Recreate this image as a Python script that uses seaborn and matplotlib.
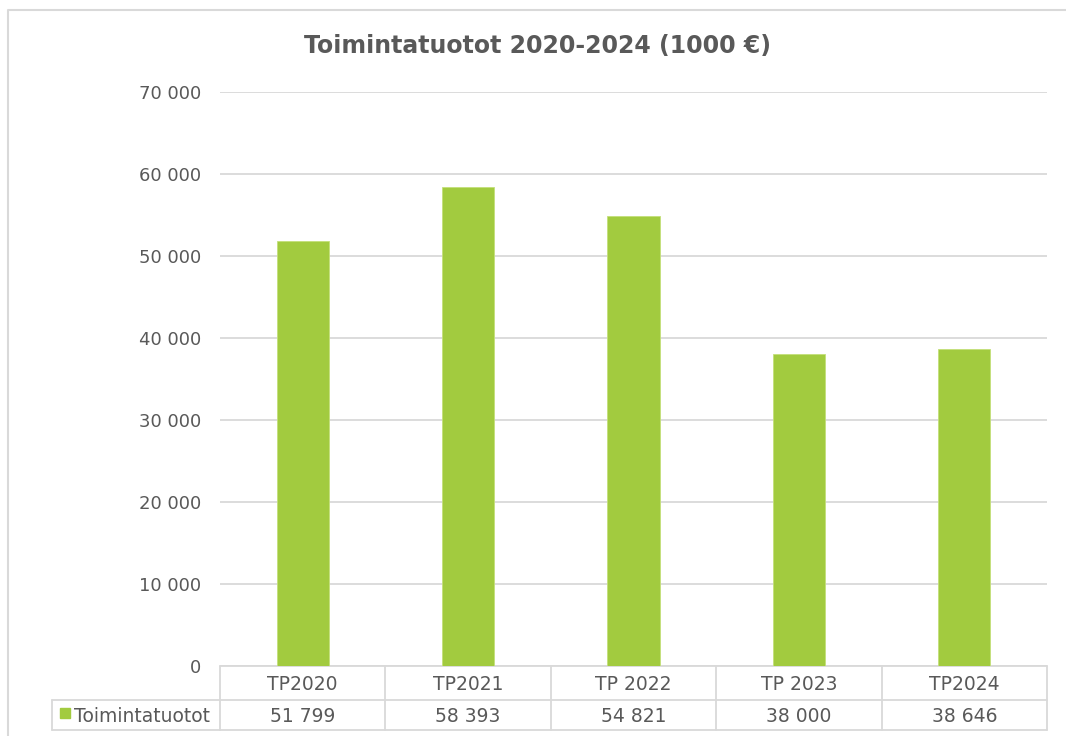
import matplotlib
matplotlib.use("Agg")
import matplotlib.pyplot as plt
import matplotlib.transforms as mtransforms
import seaborn as sns
import pandas as pd

categories = ["TP2020", "TP2021", "TP 2022", "TP 2023", "TP2024"]
values = [51799, 58393, 54821, 38000, 38646]
value_labels = ["51 799", "58 393", "54 821", "38 000", "38 646"]
series_name = "Toimintatuotot"
title = "Toimintatuotot 2020-2024 (1000 €)"
yticks = [0, 10000, 20000, 30000, 40000, 50000, 60000, 70000]
ytick_labels = ["0", "10 000", "20 000", "30 000", "40 000", "50 000", "60 000", "70 000"]

sns.set_theme(style="white")
plt.rcParams['font.family'] = ['DejaVu Sans']

W, H = 1066, 736
fig = plt.figure(figsize=(W / 100, H / 100), dpi=100)
fig.patch.set_facecolor("white")

over = fig.add_axes([0, 0, 1, 1], zorder=0)
over.set_xlim(0, W)
over.set_ylim(H, 0)
over.axis("off")

grid_c = "#d9d9d9"
text_c = "#595959"
green = "#a2cb3f"

# outer chart border
over.plot([8, 8, W + 5], [H + 5, 10, 10], color=grid_c, lw=1.5, solid_capstyle="butt")

left, right, y0, y70 = 220, 1047, 666, 92
ax = fig.add_axes([left / W, (H - y0) / H, (right - left) / W, (y0 - y70) / H], zorder=1)
ax.patch.set_alpha(0)

df = pd.DataFrame({"cat": categories, "val": values})
sns.barplot(data=df, x="cat", y="val", color=green, saturation=1, width=0.315,
            ax=ax, zorder=3, edgecolor="#c4e07a", linewidth=0.6)
ax.set_xlim(-0.5, len(categories) - 0.5)
ax.set_ylim(0, 70000)
ax.set_yticks(yticks)
ax.set_yticklabels(ytick_labels, color=text_c, fontsize=13)
ax.tick_params(axis="y", length=0, pad=13.5)
ax.set_xticks([])
ax.set_xlabel("")
ax.set_ylabel("")
for s in ax.spines.values():
    s.set_visible(False)
ax.grid(axis="y", color=grid_c, lw=1.3)
ax.set_axisbelow(True)

fig.text(0.5 * (293 + 783) / W, 1 - 46 / H, title, ha="center", va="center",
         fontsize=17, fontweight="bold", color=text_c)

# data table
tr = mtransforms.blended_transform_factory(ax.transData, over.transData)
n = len(categories)
row_top, row_mid, row_bot = 666, 700, 730
for i in range(n + 1):
    xb = i - 0.5
    over.plot([xb, xb], [row_top, row_bot], color=grid_c, lw=1.3, transform=tr)
over.plot([-0.5, n - 0.5], [row_top, row_top], color=grid_c, lw=1.3, transform=tr)
over.plot([-0.5, n - 0.5], [row_mid, row_mid], color=grid_c, lw=1.3, transform=tr)
over.plot([-0.5, n - 0.5], [row_bot, row_bot], color=grid_c, lw=1.3, transform=tr)
over.plot([52, left], [row_mid, row_mid], color=grid_c, lw=1.3)
over.plot([52, left], [row_bot, row_bot], color=grid_c, lw=1.3)
over.plot([52, 52], [row_mid, row_bot], color=grid_c, lw=1.3)

for i, (c, v) in enumerate(zip(categories, value_labels)):
    over.text(i, (row_top + row_mid) / 2 + 1, c, ha="center", va="center",
              fontsize=13.5, color=text_c, transform=tr)
    over.text(i, (row_mid + row_bot) / 2 + 1, v, ha="center", va="center",
              fontsize=13.5, color=text_c, transform=tr)

over.add_patch(plt.Rectangle((60, 708), 10, 10, color=green))
over.text(74, (row_mid + row_bot) / 2 + 1, series_name, ha="left", va="center",
          fontsize=13.5, color=text_c)

fig.savefig("out.png", dpi=100)
